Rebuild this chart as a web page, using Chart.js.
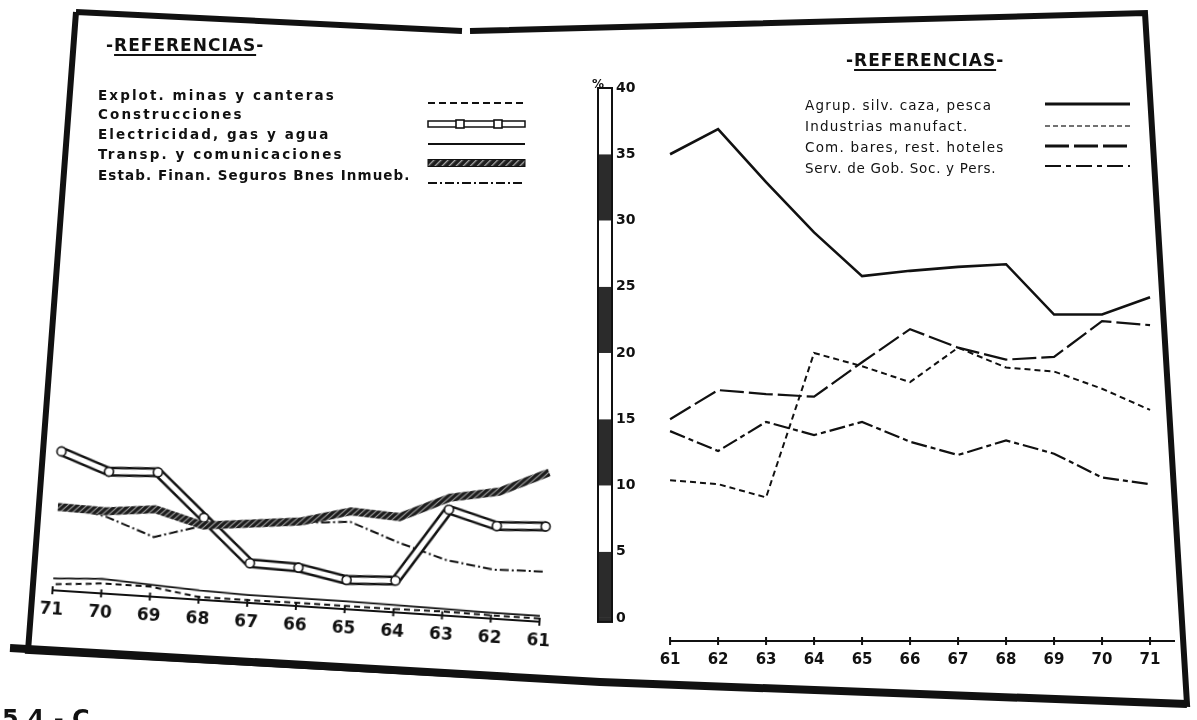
<!DOCTYPE html>
<html>
<head>
<meta charset="utf-8">
<script src="https://cdn.jsdelivr.net/npm/chart.js@4.4.1/dist/chart.umd.min.js"></script>
<style>
  body { margin: 0; width: 1197px; height: 720px; overflow: hidden; position: relative; background: #fff; color: #111; font-family: "DejaVu Sans", sans-serif; }
  #left { position: absolute; left: 0; top: 0; transform: rotate(3.7deg); transform-origin: 296px 606px; }
  #right { position: absolute; left: 560px; top: 0; }
  #frame { position: absolute; left: 0; top: 0; }
  .t { position: absolute; white-space: nowrap; line-height: 16px; }
  .hdr { font-weight: bold; font-size: 17px; letter-spacing: 1px; }
  .hdr u { text-underline-offset: 3px; text-decoration-thickness: 2px; }
  .ll { font-weight: bold; font-size: 13.5px; letter-spacing: 2.1px; }
  .rl { font-size: 13.5px; letter-spacing: 1.2px; }
  svg.sym { position: absolute; overflow: visible; }
</style>
</head>
<body>
<svg id="frame" width="1197" height="720">
  <path d="M76,12 L462,31 M470,31 L1145,13 L1187,704 L600,682 L28,651 L76,12" fill="none" stroke="#111" stroke-width="6" stroke-linejoin="miter"/>
  <path d="M10,648 L600,682 L1187,704" fill="none" stroke="#111" stroke-width="8"/>
</svg>

<canvas id="left" width="600" height="720"></canvas>
<canvas id="right" width="637" height="720"></canvas>

<div class="t hdr" style="left:106px;top:37px">-<u>REFERENCIAS</u>-</div>
<div class="t ll" style="left:98px;top:87px">Explot. minas y canteras</div>
<div class="t ll" style="left:98px;top:106px">Construcciones</div>
<div class="t ll" style="left:98px;top:126px">Electricidad, gas y agua</div>
<div class="t ll" style="left:98px;top:146px">Transp. y comunicaciones</div>
<div class="t ll" style="left:98px;top:167px;letter-spacing:1.1px">Estab. Finan. Seguros Bnes Inmueb.</div>

<svg class="sym" style="left:428px;top:98px" width="97" height="10"><line x1="0" y1="5" x2="97" y2="5" stroke="#111" stroke-width="2" stroke-dasharray="7 4"/></svg>
<svg class="sym" style="left:428px;top:119px" width="97" height="10">
  <rect x="0" y="2" width="97" height="6" fill="#fff" stroke="#111" stroke-width="1.5"/>
  <rect x="28" y="1" width="8" height="8" fill="#fff" stroke="#111" stroke-width="1.6"/>
  <rect x="66" y="1" width="8" height="8" fill="#fff" stroke="#111" stroke-width="1.6"/>
</svg>
<svg class="sym" style="left:428px;top:139px" width="97" height="10"><line x1="0" y1="5" x2="97" y2="5" stroke="#111" stroke-width="2"/></svg>
<svg class="sym" style="left:428px;top:158px" width="97" height="10">
  <defs><pattern id="h" width="5" height="5" patternUnits="userSpaceOnUse" patternTransform="rotate(45)"><rect width="5" height="5" fill="#1e1e1e"/><rect width="1.3" height="5" fill="#a8a8a8"/></pattern></defs>
  <rect x="0" y="1.5" width="97" height="7" fill="url(#h)" stroke="#111" stroke-width="1"/>
</svg>
<svg class="sym" style="left:428px;top:178px" width="97" height="10"><line x1="0" y1="5" x2="97" y2="5" stroke="#111" stroke-width="2" stroke-dasharray="9 3 2 3"/></svg>

<div class="t hdr" style="left:846px;top:52px">-<u>REFERENCIAS</u>-</div>
<div class="t rl" style="left:805px;top:97px">Agrup. silv. caza, pesca</div>
<div class="t rl" style="left:805px;top:118px">Industrias manufact.</div>
<div class="t rl" style="left:805px;top:139px">Com. bares, rest. hoteles</div>
<div class="t rl" style="left:805px;top:160px;letter-spacing:0.7px">Serv. de Gob. Soc. y Pers.</div>

<svg class="sym" style="left:1045px;top:99px" width="85" height="10"><line x1="0" y1="5" x2="85" y2="5" stroke="#111" stroke-width="3"/></svg>
<svg class="sym" style="left:1045px;top:121px" width="85" height="10"><line x1="0" y1="5" x2="85" y2="5" stroke="#444" stroke-width="1.5" stroke-dasharray="5 3"/></svg>
<svg class="sym" style="left:1045px;top:141px" width="85" height="10"><line x1="0" y1="5" x2="85" y2="5" stroke="#111" stroke-width="3" stroke-dasharray="24 5"/></svg>
<svg class="sym" style="left:1045px;top:161px" width="85" height="10"><line x1="0" y1="5" x2="85" y2="5" stroke="#111" stroke-width="2" stroke-dasharray="16 5 5 5"/></svg>

<div class="t" style="left:592px;top:76px;font-size:12px;font-weight:bold">%</div>
<div class="t" style="left:2px;top:705px;font-size:24px;font-weight:bold;line-height:28px">5.4.- C</div>

<script>
const years = [61, 62, 63, 64, 65, 66, 67, 68, 69, 70, 71];
const pctTicks = [0, 5, 10, 15, 20, 25, 30, 35, 40];

// left panel (axis drawn 71 -> 61)
const explotMinas = [0.25, 0.25, 0.3, 0.25, 0.25, 0.25, 0.2, 0.2, 0.75, 0.75, 0.45];
const construcciones = [7.2, 7.0, 8.0, 2.4, 2.2, 2.9, 3.0, 6.2, 9.4, 9.2, 10.5];
const electricidad = [0.45, 0.45, 0.5, 0.55, 0.6, 0.6, 0.6, 0.7, 0.9, 1.1, 0.9];
const transporte = [11.3, 9.6, 8.9, 7.2, 7.4, 6.4, 6.0, 5.6, 6.6, 6.2, 6.3];
const estabFinan = [3.8, 3.7, 4.2, 5.3, 6.6, 6.3, 5.9, 5.6, 4.5, 5.8, 6.5];

// right panel
const agrupSilv = [35.0, 36.9, 32.9, 29.1, 25.8, 26.2, 26.5, 26.7, 22.9, 22.9, 24.2];
const industrias = [10.4, 10.1, 9.1, 20.0, 19.0, 17.8, 20.4, 18.9, 18.6, 17.3, 15.7];
const comBares = [15.0, 17.2, 16.9, 16.7, 19.3, 21.8, 20.4, 19.5, 19.7, 22.4, 22.1];
const servGob = [14.1, 12.6, 14.8, 13.8, 14.8, 13.3, 12.3, 13.4, 12.4, 10.6, 10.1];

Chart.defaults.font.family = '"DejaVu Sans", sans-serif';
Chart.defaults.color = '#111';

function pts(vals) {
  return years.map((y, i) => ({ x: y, y: vals[i] }));
}

function hatch() {
  const c = document.createElement('canvas');
  c.width = 6; c.height = 6;
  const g = c.getContext('2d');
  g.fillStyle = '#1c1c1c';
  g.fillRect(0, 0, 6, 6);
  g.strokeStyle = '#a0a0a0';
  g.lineWidth = 1.2;
  g.beginPath();
  g.moveTo(0, 6); g.lineTo(6, 0);
  g.moveTo(-1, 1); g.lineTo(1, -1);
  g.moveTo(5, 7); g.lineTo(7, 5);
  g.stroke();
  return g.createPattern(c, 'repeat');
}

// axis line + little cross ticks at every year
const yearAxis = {
  id: 'yearAxis',
  afterDraw(chart, args, opts) {
    const { ctx, chartArea, scales: { x } } = chart;
    const yb = chartArea.bottom;
    const x0 = x.getPixelForValue(years[0]);
    const x1 = opts.toEdge ? chartArea.right : x.getPixelForValue(years[years.length - 1]);
    ctx.save();
    ctx.strokeStyle = '#111';
    ctx.lineWidth = 2;
    ctx.beginPath();
    ctx.moveTo(x0, yb); ctx.lineTo(x1, yb);
    years.forEach(v => {
      const px = x.getPixelForValue(v);
      ctx.moveTo(px, yb - 4); ctx.lineTo(px, yb + 4);
    });
    ctx.stroke();
    ctx.restore();
  }
};

// the striped % bar in the middle
const pctBar = {
  id: 'pctBar',
  afterDraw(chart) {
    const { ctx, chartArea, scales: { y } } = chart;
    const r = chartArea.left, l = r - 14;
    ctx.save();
    for (let i = 0; i < pctTicks.length - 1; i++) {
      const a = y.getPixelForValue(pctTicks[i]);
      const b = y.getPixelForValue(pctTicks[i + 1]);
      ctx.fillStyle = i % 2 === 0 ? '#2b2b2b' : '#fff';
      ctx.fillRect(l, b, r - l, a - b);
    }
    const top = y.getPixelForValue(pctTicks[pctTicks.length - 1]);
    const bot = y.getPixelForValue(pctTicks[0]);
    ctx.fillStyle = '#2b2b2b';
    ctx.fillRect(l, bot, r - l, 4);
    ctx.strokeStyle = '#111';
    ctx.lineWidth = 2;
    ctx.strokeRect(l, top, r - l, bot - top + 4);
    ctx.restore();
  }
};

const common = {
  responsive: false,
  animation: false,
  events: [],
  elements: { point: { radius: 0 }, line: { tension: 0 } },
  plugins: { legend: { display: false }, tooltip: { enabled: false } }
};

var leftChart = new Chart(document.getElementById('left'), {
  type: 'line',
  data: {
    datasets: [
      { data: pts(transporte), borderColor: hatch(), borderWidth: 8, order: 1, clip: false },
      { data: pts(construcciones), borderColor: '#fff', borderWidth: 5, borderJoinStyle: 'round',
        pointRadius: 4.5, pointBackgroundColor: '#fff', pointBorderColor: '#111', pointBorderWidth: 1.6, order: 2, clip: false },
      { data: pts(construcciones), borderColor: '#111', borderWidth: 10, borderJoinStyle: 'round', order: 3, clip: false },
      { data: pts(estabFinan), borderColor: '#111', borderWidth: 2, borderDash: [9, 3, 2, 3], order: 4, clip: false },
      { data: pts(electricidad), borderColor: '#111', borderWidth: 1.8, order: 5, clip: false },
      { data: pts(explotMinas), borderColor: '#111', borderWidth: 2, borderDash: [6, 4], order: 6, clip: false }
    ]
  },
  options: {
    ...common,
    layout: { padding: { left: 52, right: 60, top: 76, bottom: 74 } },
    scales: {
      x: {
        type: 'linear', min: 61, max: 71, reverse: true,
        afterBuildTicks: s => { s.ticks = years.map(v => ({ value: v })); },
        afterFit: s => { s.height = 40; },
        grid: { display: false, drawTicks: false },
        border: { display: false },
        ticks: { padding: 9, autoSkip: false, maxRotation: 0, font: { size: 17, weight: 'bold' }, callback: v => String(v) }
      },
      y: { display: false, min: 0, max: 40 }
    },
    plugins: { ...common.plugins, yearAxis: { toEdge: false } }
  },
  plugins: [yearAxis]
});

var rightChart = new Chart(document.getElementById('right'), {
  type: 'line',
  data: {
    datasets: [
      { data: pts(agrupSilv), borderColor: '#111', borderWidth: 2.6, clip: false },
      { data: pts(industrias), borderColor: '#111', borderWidth: 2, borderDash: [6, 4], clip: false },
      { data: pts(comBares), borderColor: '#111', borderWidth: 2.2, borderDash: [24, 5], clip: false },
      { data: pts(servGob), borderColor: '#111', borderWidth: 2.2, borderDash: [16, 4, 5, 4], clip: false }
    ]
  },
  options: {
    ...common,
    layout: { padding: { left: 52, right: 22, top: 88, bottom: 39 } },
    scales: {
      x: {
        type: 'linear', min: 59.79, max: 71.52,
        afterBuildTicks: s => { s.ticks = years.map(v => ({ value: v })); },
        afterFit: s => { s.height = 40; },
        grid: { display: false, drawTicks: false },
        border: { display: false },
        ticks: { padding: 10, autoSkip: false, maxRotation: 0, font: { size: 15, weight: 'bold' }, callback: v => String(v) }
      },
      y: {
        position: 'left', min: -1.74, max: 40,
        afterBuildTicks: s => { s.ticks = pctTicks.map(v => ({ value: v })); },
        afterFit: s => { s.width = 0; },
        grid: { display: false, drawTicks: false },
        border: { display: false },
        ticks: { mirror: true, padding: 4, font: { size: 14, weight: 'bold' } }
      }
    },
    plugins: { ...common.plugins, yearAxis: { toEdge: true } }
  },
  plugins: [yearAxis, pctBar]
});
</script>
</body>
</html>
